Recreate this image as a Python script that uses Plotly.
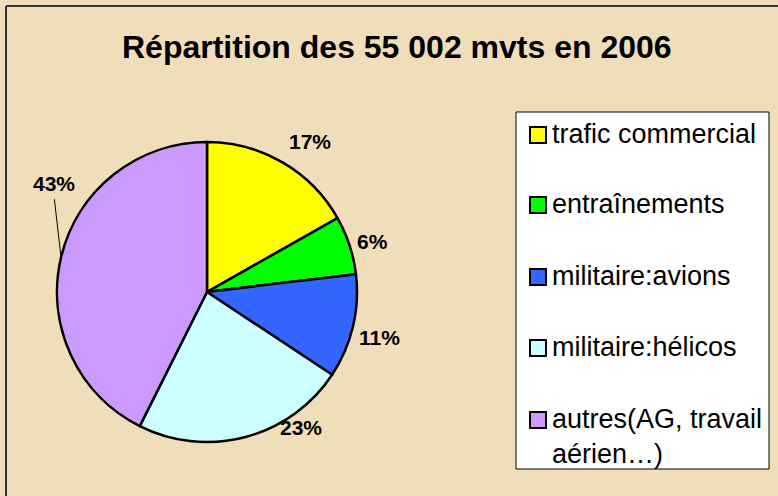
import numpy as np
import plotly.graph_objects as go

W, H = 778, 496

categories = ["trafic commercial", "entraînements", "militaire:avions",
              "militaire:hélicos", "autres(AG, travail<br>aérien…)"]
values = [16.8, 6.3, 11.2, 23.1, 42.6]
colors = ["#FFFF00", "#00FF00", "#3366FF", "#CCFFFF", "#CC99FF"]
title_text = "Répartition des 55 002 mvts en 2006"

# label placement (style): radial distance from centre (px) and angular shift (deg)
label_dist = [183, 173, 178, 164, 188]
label_shift = [4, 0.7, 1, -20, 22.4]
leader = [False, False, False, False, True]

FONT = "Liberation Sans, Arial, sans-serif"


def px(x):
    return x / W


def py(y):
    return 1 - y / H


cx, cy, r = 207, 292, 150

fig = go.Figure()
fig.add_trace(go.Pie(
    labels=categories,
    values=values,
    sort=False,
    direction="clockwise",
    rotation=0,
    marker=dict(colors=colors, line=dict(color="black", width=2.5)),
    textinfo="none",
    domain=dict(x=[px(cx - r), px(cx + r)], y=[py(cy + r), py(cy - r)]),
    showlegend=False,
    hoverinfo="label+percent",
))

shapes = []
annotations = []

# percentage labels derived from the values
vals = np.array(values, dtype=float)
frac = vals / vals.sum()
mid = (np.cumsum(frac) - frac / 2) * 360.0
for f, m, d, s, ld in zip(frac, mid, label_dist, label_shift, leader):
    th = np.radians(m + s)
    lx = cx + d * np.sin(th)
    ly = cy - d * np.cos(th)
    annotations.append(dict(text="<b>%d%%</b>" % round(f * 100), xref="paper", yref="paper",
                            x=px(lx), y=py(ly + 1), xanchor="center", yanchor="middle",
                            showarrow=False,
                            font=dict(family=FONT, size=21, color="black")))
    if ld:
        tm = np.radians(m)
        shapes.append(dict(type="line", xref="paper", yref="paper",
                           x0=px(cx + r * np.sin(tm)), y0=py(cy - r * np.cos(tm)),
                           x1=px(lx), y1=py(ly + 17),
                           line=dict(color="black", width=1)))

# frame lines (top and left)
shapes.append(dict(type="line", xref="paper", yref="paper",
                   x0=px(6), x1=1.0, y0=py(6), y1=py(6),
                   line=dict(color="#333333", width=2)))
shapes.append(dict(type="line", xref="paper", yref="paper",
                   x0=px(6), x1=px(6), y0=py(6), y1=0,
                   line=dict(color="#333333", width=2)))

# legend box
shapes.append(dict(type="rect", xref="paper", yref="paper",
                   x0=px(516), x1=px(769), y0=py(469), y1=py(112),
                   fillcolor="white", line=dict(color="black", width=1)))

item_y = [135, 205, 277, 348, 420]
for name, col, yc in zip(categories, colors, item_y):
    shapes.append(dict(type="rect", xref="paper", yref="paper",
                       x0=px(530), x1=px(546), y0=py(yc + 8), y1=py(yc - 8),
                       fillcolor=col, line=dict(color="black", width=2)))
    annotations.append(dict(text=name, xref="paper", yref="paper",
                            x=px(550), y=py(yc - 18), xanchor="left", yanchor="top",
                            align="left", showarrow=False,
                            font=dict(family=FONT, size=27, color="black")))

annotations.append(dict(text="<b>" + title_text + "</b>", xref="paper", yref="paper",
                        x=px(397), y=py(47), xanchor="center", yanchor="middle",
                        showarrow=False,
                        font=dict(family=FONT, size=32, color="black")))

fig.update_layout(
    width=W, height=H,
    margin=dict(l=0, r=0, t=0, b=0),
    paper_bgcolor="#F0DEBA",
    plot_bgcolor="#F0DEBA",
    shapes=shapes,
    annotations=annotations,
    showlegend=False,
)

fig.write_html("out.html", config={"displayModeBar": False},
               post_script="document.body.style.margin='0';")
